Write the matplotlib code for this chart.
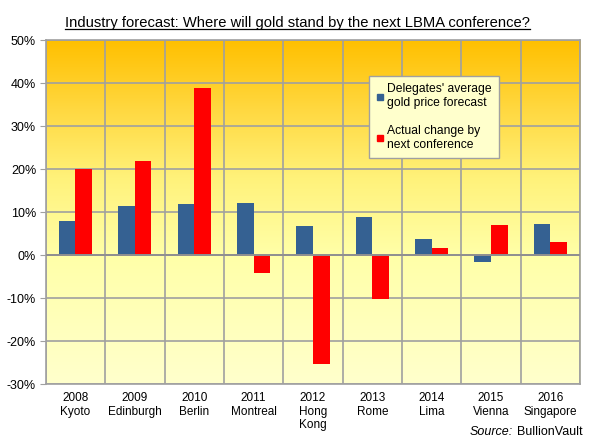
import numpy as np
import matplotlib
matplotlib.use("Agg")
import matplotlib.pyplot as plt
from matplotlib.colors import LinearSegmentedColormap
from matplotlib.lines import Line2D

plt.rcParams['font.family'] = ['Liberation Sans', 'DejaVu Sans']

years = ['2008', '2009', '2010', '2011', '2012', '2013', '2014', '2015', '2016']
cities = ['Kyoto', 'Edinburgh', 'Berlin', 'Montreal', 'Hong\nKong', 'Rome', 'Lima', 'Vienna', 'Singapore']
forecast = [7.9, 11.4, 11.8, 12.1, 6.8, 8.8, 3.7, -1.5, 7.2]
actual = [20.0, 21.8, 38.9, -4.1, -25.3, -10.3, 1.6, 7.0, 3.0]
yticks = [-30, -20, -10, 0, 10, 20, 30, 40, 50]

fig = plt.figure(figsize=(5.95, 4.46), dpi=100)
ax = fig.add_axes([0.077, 0.139, 0.898, 0.771])

n = len(years)
x = np.arange(n)
w = 0.28

# gradient background
cmap = LinearSegmentedColormap.from_list('bg', [
    (0.0, '#FFFFCC'), (0.375, '#FFFFA8'), (0.6, '#FFF27A'),
    (0.8, '#FFD840'), (1.0, '#FFC000')])
grad = np.linspace(0, 1, 256).reshape(-1, 1)
ax.imshow(grad, aspect='auto', cmap=cmap, origin='lower',
          extent=[-0.5, n - 0.5, -30, 50], zorder=0)

# grid
for yv in yticks:
    ax.axhline(yv, color='#A0A0A0', lw=1.2, zorder=1)
for xv in np.arange(-0.5, n, 1.0):
    ax.axvline(xv, color='#A0A0A0', lw=1.2, zorder=1)

ax.bar(x - w / 2, forecast, w, color='#356192', zorder=2)
ax.bar(x + w / 2, actual, w, color='#FF0000', zorder=2)
ax.axhline(0, color='#909090', lw=1.4, zorder=3)

ax.set_xlim(-0.5, n - 0.5)
ax.set_ylim(-30, 50)
ax.set_yticks(yticks)
ax.set_yticklabels([f'{v}%' for v in yticks], fontsize=9)
ax.set_xticks(x)
ax.set_xticklabels([f'{y}\n{c}' for y, c in zip(years, cities)], fontsize=8.5,
                   linespacing=1.15, va='top')
ax.tick_params(axis='x', length=0, pad=6)
ax.tick_params(axis='y', length=4, color='#A0A0A0', pad=3)
for s in ax.spines.values():
    s.set_color('#A0A0A0')
    s.set_linewidth(1.2)

# legend
h1 = Line2D([], [], marker='s', ls='', color='#356192', markersize=5)
h2 = Line2D([], [], marker='s', ls='', color='#FF0000', markersize=5)
leg = ax.legend([h1, h2], ["Delegates' average\ngold price forecast",
                           'Actual change by\nnext conference'],
                loc='upper left', bbox_to_anchor=(0.605, 0.895),
                fontsize=8.7, frameon=True, fancybox=False,
                handlelength=0.6, handletextpad=0.3, labelspacing=1.3,
                borderpad=0.6, borderaxespad=0)
leg.get_frame().set_facecolor('#FFFFCC')
leg.get_frame().set_edgecolor('#A0A0A0')
leg.get_frame().set_alpha(1)
leg.set_zorder(5)

title = fig.text(0.5, 0.948, 'Industry forecast: Where will gold stand by the next LBMA conference?',
                 ha='center', va='center', fontsize=10.6)
fig.canvas.draw()
bb = title.get_window_extent().transformed(fig.transFigure.inverted())
fig.add_artist(Line2D([bb.x0, bb.x1], [bb.y0 + 0.002, bb.y0 + 0.002], color='black', lw=0.9))

src = fig.text(0.98, 0.018, 'BullionVault', ha='right', va='bottom', fontsize=9)
fig.canvas.draw()
sb = src.get_window_extent().transformed(fig.transFigure.inverted())
fig.text(sb.x0 - 0.008, 0.018, 'Source:', ha='right', va='bottom', fontsize=9, style='italic')

fig.savefig('out.png', dpi=100)
